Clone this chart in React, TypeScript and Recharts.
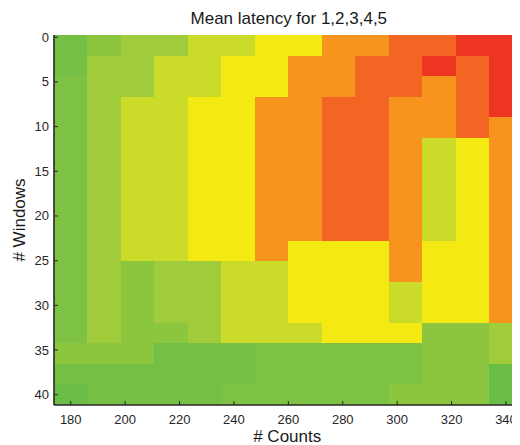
import { ScatterChart, XAxis, YAxis, ReferenceArea } from "recharts";

// cell centres (# Counts across, # Windows down)
const counts = [180, 192.31, 204.62, 216.92, 229.23, 241.54, 253.85, 266.15, 278.46, 290.77, 303.08, 315.38, 327.69, 340];
const windows = [0.9, 3.2, 5.5, 7.8, 10.1, 12.4, 14.7, 17, 19.3, 21.6, 23.9, 26.2, 28.5, 30.8, 33.1, 35.4, 37.7, 40];

const countTicks = [180, 200, 220, 240, 260, 280, 300, 320, 340];
const windowTicks = [0, 5, 10, 15, 20, 25, 30, 35, 40];

// mean latency level, one row per window value (top to bottom), one column per count
const latency = [
  [2, 4, 5, 5, 6, 6, 7, 7, 8, 8, 9, 9, 10, 10],
  [2, 5, 5, 6, 6, 7, 7, 8, 8, 9, 9, 10, 9, 10],
  [3, 5, 5, 6, 6, 7, 7, 8, 8, 9, 9, 8, 9, 10],
  [3, 5, 6, 6, 7, 7, 8, 8, 9, 9, 8, 8, 9, 10],
  [3, 5, 6, 6, 7, 7, 8, 8, 9, 9, 8, 8, 9, 8],
  [3, 5, 6, 6, 7, 7, 8, 8, 9, 9, 8, 6, 7, 8],
  [3, 5, 6, 6, 7, 7, 8, 8, 9, 9, 8, 6, 7, 8],
  [3, 5, 6, 6, 7, 7, 8, 8, 9, 9, 8, 6, 7, 8],
  [3, 5, 6, 6, 7, 7, 8, 8, 9, 9, 8, 6, 7, 8],
  [3, 5, 6, 6, 7, 7, 8, 8, 9, 9, 8, 6, 7, 8],
  [3, 5, 6, 6, 7, 7, 8, 7, 7, 7, 8, 7, 7, 8],
  [3, 5, 4, 5, 5, 6, 6, 7, 7, 7, 8, 7, 7, 8],
  [3, 5, 4, 5, 5, 6, 6, 7, 7, 7, 6, 7, 7, 8],
  [3, 5, 4, 5, 5, 6, 6, 7, 7, 7, 6, 7, 7, 8],
  [3, 5, 4, 4, 5, 6, 6, 6, 7, 7, 7, 4, 4, 5],
  [4, 4, 4, 2, 2, 2, 3, 3, 3, 3, 3, 4, 4, 5],
  [2, 2, 2, 2, 2, 2, 3, 3, 3, 3, 3, 4, 4, 1],
  [1, 2, 2, 2, 2, 3, 3, 3, 3, 3, 4, 4, 4, 1],
];

// colour for level 1..10
const levelColors = ["#6abd45", "#74bf44", "#7dc242", "#8cc63f", "#a0cb3b", "#cbdb2a", "#f5e914", "#f7941e", "#f26522", "#ee3524"];

const ink = "#262626";
const font = "'Liberation Sans', Arial, Helvetica, sans-serif";

function edges(centers: number[]) {
  return centers.map((c, i) => {
    const prev = i > 0 ? centers[i - 1] : 2 * c - centers[i + 1];
    const next = i < centers.length - 1 ? centers[i + 1] : 2 * c - centers[i - 1];
    return [(prev + c) / 2, (c + next) / 2];
  });
}

const BottomTick = ({ x, y, payload }: any) => (
  <g>
    <line x1={x} x2={x} y1={y} y2={y - 4} stroke={ink} />
    <text x={x} y={y + 18.5} textAnchor="middle" fontSize={13} fill={ink} fontFamily={font}>
      {payload.value}
    </text>
  </g>
);

const TopTick = ({ x, y }: any) => <line x1={x} x2={x} y1={y} y2={y + 4} stroke={ink} />;

const LeftTick = ({ x, y, payload }: any) => (
  <g>
    <line x1={x} x2={x + 4} y1={y} y2={y} stroke={ink} />
    <text x={x - 5} y={y + 4.5} textAnchor="end" fontSize={13} fill={ink} fontFamily={font}>
      {payload.value}
    </text>
  </g>
);

const RightTick = ({ x, y }: any) => <line x1={x - 4} x2={x} y1={y} y2={y} stroke={ink} />;

export default function App() {
  const xEdges = edges(counts);
  const yEdges = edges(windows);
  const xDomain = [173.85, 345.15];
  const yDomain = [-0.25, 41.15];

  return (
    <div style={{ position: "relative", width: 512, height: 437 }}>
      <ScatterChart width={512} height={437} margin={{ top: 27, right: 0, bottom: 0, left: 0 }}>
        <XAxis
          xAxisId={0}
          type="number"
          dataKey="x"
          domain={xDomain}
          allowDataOverflow
          ticks={countTicks}
          height={40}
          tickSize={0}
          tickMargin={0}
          tickLine={false}
          tick={BottomTick}
          axisLine={{ stroke: ink, strokeWidth: 1.6 }}
        />
        <XAxis
          xAxisId="top"
          orientation="top"
          type="number"
          dataKey="x"
          domain={xDomain}
          allowDataOverflow
          ticks={countTicks}
          height={0}
          tickSize={0}
          tickMargin={0}
          tickLine={false}
          tick={TopTick}
          axisLine={{ stroke: ink, strokeWidth: 1.6 }}
        />
        <YAxis
          yAxisId={0}
          type="number"
          dataKey="y"
          domain={yDomain}
          allowDataOverflow
          reversed
          ticks={windowTicks}
          width={46}
          tickSize={0}
          tickMargin={0}
          tickLine={false}
          tick={LeftTick}
          axisLine={{ stroke: ink, strokeWidth: 1.6 }}
        />
        <YAxis
          yAxisId="right"
          orientation="right"
          type="number"
          dataKey="y"
          domain={yDomain}
          allowDataOverflow
          reversed
          ticks={windowTicks}
          width={0}
          tickSize={0}
          tickMargin={0}
          tickLine={false}
          tick={RightTick}
          axisLine={false}
        />
        {latency.flatMap((row, r) =>
          row.map((level, c) => (
            <ReferenceArea
              key={`${r}-${c}`}
              xAxisId={0}
              yAxisId={0}
              x1={xEdges[c][0]}
              x2={xEdges[c][1]}
              y1={yEdges[r][0]}
              y2={yEdges[r][1]}
              fill={levelColors[level - 1]}
              fillOpacity={1}
              stroke="none"
              shapeRendering="crispEdges"
              ifOverflow="hidden"
            />
          ))
        )}
      </ScatterChart>
      <svg
        width={512}
        height={437}
        style={{ position: "absolute", left: 0, top: 0, pointerEvents: "none" }}
        fontFamily={font}
        fill="#1a1a1a"
      >
        <text x={280.8} y={16} textAnchor="middle" fontSize={17}>
          Mean latency for 1,2,3,4,5
        </text>
        <text x={279.2} y={433.5} textAnchor="middle" fontSize={17}>
          # Counts
        </text>
        <text x={17} y={212} textAnchor="middle" fontSize={17} transform="rotate(-90, 17, 212)">
          # Windows
        </text>
      </svg>
    </div>
  );
}
